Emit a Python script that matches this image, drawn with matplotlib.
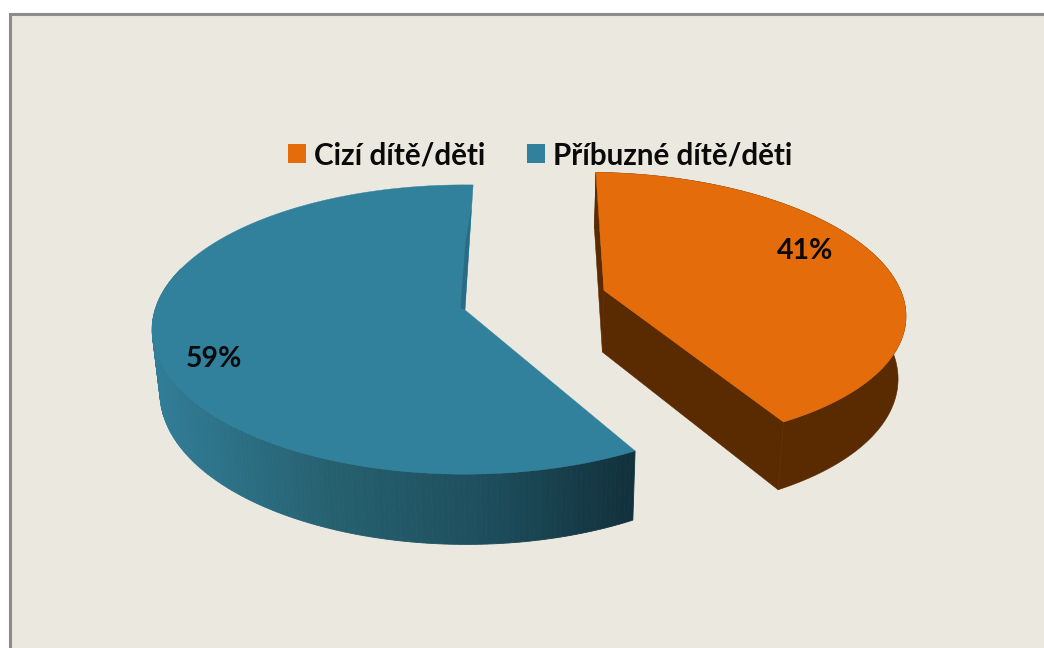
import numpy as np
import matplotlib
matplotlib.use("Agg")
import matplotlib.pyplot as plt
from matplotlib.patches import Polygon, Rectangle, Patch
from matplotlib.colors import to_rgb

categories = ["Cizí dítě/děti", "Příbuzné dítě/děti"]
values = [41.49, 58.51]
labels = ["41%", "59%"]
colors = ["#E46C0A", "#31809C"]
side_color = "#5A2A00"
explode = [0.47, 0.0]
lift = [0.03, 0.0]
radius = [0.975, 1.0]

BG = "#EBE9DF"
X0, Y0, A, B, K = 465.0, 310.0, 310.0, 142.0, 0.135
ROT = 1.7


def project(u, v):
    w = 1 + K * v
    return X0 + A * u / w, Y0 - B * v / w


def drop(x, y):
    return x - 0.021 * (x - 528), y + 56 + (y - 171) * 0.047


fig = plt.figure(figsize=(10.44, 6.48), dpi=100, facecolor="white")
ax = fig.add_axes([0, 0, 1, 1])
ax.set_xlim(0, 1044)
ax.set_ylim(648, 0)
ax.axis("off")
ax.add_patch(Rectangle((10, 14), 1100, 700, facecolor=BG, edgecolor="#8C8C8C", lw=2.2, zorder=0))

stops_x = [150, 330, 480, 627]
stops_c = np.array([to_rgb(c) for c in ["#317D98", "#26606F", "#1E4F5E", "#12323D"]])


def blue_side(x):
    return tuple(np.interp(x, stops_x, stops_c[:, i]) for i in range(3))


total = sum(values)
start = ROT
for i, val in enumerate(values):
    span = 360 * val / total
    th = np.radians(np.linspace(start, start + span, 240))
    mid = np.radians(start + span / 2)
    ou, ov = explode[i] * np.sin(mid), explode[i] * np.cos(mid) + lift[i]
    rx, ry = project(ou + radius[i] * np.sin(th), ov + radius[i] * np.cos(th))
    ax_, ay_ = project(ou, ov)
    bx, by = drop(rx, ry)
    abx, aby = drop(ax_, ay_)
    if i == 0:
        wall = np.r_[np.c_[rx, ry], np.c_[bx, by][::-1]]
        ax.add_patch(Polygon(wall, facecolor=side_color, edgecolor=side_color, lw=0.4, zorder=2))
        for (p, q, s, t) in [(rx[0], ry[0], bx[0], by[0]), (rx[-1], ry[-1], bx[-1], by[-1])]:
            ax.add_patch(Polygon([(p, q), (ax_, ay_), (abx, aby), (s, t)],
                                 facecolor=side_color, edgecolor=side_color, lw=0.4, zorder=2))
    else:
        for j in range(len(rx) - 1):
            if np.cos(th[j]) > 0.3:
                continue
            quad = [(rx[j], ry[j]), (rx[j + 1], ry[j + 1]), (bx[j + 1], by[j + 1]), (bx[j], by[j])]
            c = blue_side((rx[j] + rx[j + 1]) / 2)
            ax.add_patch(Polygon(quad, facecolor=c, edgecolor=c, lw=0.6, zorder=2))
    ax.add_patch(Polygon(np.r_[[[ax_, ay_]], np.c_[rx, ry]], facecolor=colors[i],
                         edgecolor=colors[i], lw=0.3, zorder=3))
    if i == 1:
        ex, ey = rx[-1], ry[-1]
        ax.add_patch(Polygon([(ax_, ay_),
                              (ax_ + 0.54 * (ex - ax_), ay_ + 0.54 * (ey - ay_)),
                              (ax_ + 0.82 * (ex - ax_), ay_ + 0.82 * (ey - ay_)),
                              (ax_ + 0.54 * (ex - ax_) - 4, ay_ + 0.54 * (ey - ay_)),
                              (ax_ - 4.5, ay_ - 2)],
                             facecolor="#2A6C85", edgecolor="none", zorder=4))
    start += span

label_pos = [(805, 251), (214, 359)]
for lab, (x, y) in zip(labels, label_pos):
    ax.text(x, y, lab, ha="center", va="center", family="Lato", weight="bold",
            fontsize=20.5, color="#0A0A0A", zorder=5)

handles = [Patch(facecolor=c, edgecolor="none") for c in colors]
ax.legend(handles, categories, ncol=2, frameon=False, loc="center",
          bbox_to_anchor=(540, 155), bbox_transform=ax.transData,
          prop={"family": "Lato", "weight": "bold", "size": 21.3},
          handlelength=0.61, handleheight=0.61, handletextpad=0.27,
          columnspacing=1.42, labelcolor="#0A0A0A", borderpad=0, borderaxespad=0)

fig.savefig("out.png", dpi=100, facecolor="white")
